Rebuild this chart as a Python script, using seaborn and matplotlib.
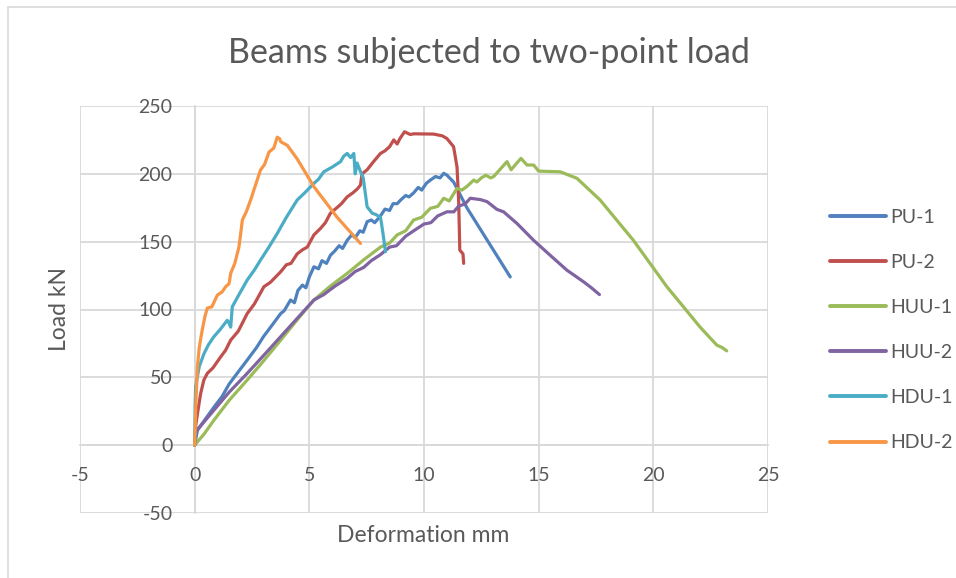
import numpy as np
import pandas as pd
import matplotlib
matplotlib.use("Agg")
import matplotlib.pyplot as plt
from matplotlib.lines import Line2D
import seaborn as sns

# ---------------- data ----------------
series_names = ["PU-1", "PU-2", "HUU-1", "HUU-2", "HDU-1", "HDU-2"]

pu1_x = [0, 0.12, 0.5, 0.84, 1.2, 1.5, 1.9, 2.29, 2.7, 3.0, 3.4, 3.75, 3.9, 4.18, 4.35,
         4.5, 4.7, 4.85, 5.0, 5.2, 5.4, 5.55, 5.75, 5.92, 6.1, 6.3, 6.45, 6.65, 6.85,
         7.0, 7.2, 7.35, 7.52, 7.7, 7.85, 8.1, 8.3, 8.5, 8.65, 8.83, 9.0, 9.2, 9.35,
         9.55, 9.75, 9.9, 10.1, 10.28, 10.5, 10.7, 10.86, 11.0, 11.29, 11.87, 13.76]
pu1_y = [0, 11, 20, 28, 36, 45, 54, 62.7, 72, 80, 89, 97, 99, 107, 105,
         114, 118, 116, 124, 131.5, 130, 136, 134, 140, 143, 147, 145, 151, 155,
         153, 158, 157, 164.7, 166, 164, 169, 174, 173, 178, 178, 181, 184, 183,
         186, 190, 188, 193, 195.4, 198, 197, 200.4, 199, 194, 175, 124]

pu2_x = [0, 0.05, 0.12, 0.26, 0.4, 0.55, 0.8, 1.13, 1.35, 1.57, 1.9, 2.29, 2.6, 3.02,
         3.3, 3.75, 4.0, 4.2, 4.47, 4.7, 4.91, 5.2, 5.5, 5.7, 5.92, 6.2, 6.4, 6.65,
         6.9, 7.1, 7.23, 7.3, 7.52, 7.8, 8.1, 8.3, 8.5, 8.68, 8.83, 8.95, 9.15, 9.4,
         9.55, 10.42, 10.8, 11.0, 11.29, 11.44, 11.51, 11.54, 11.56, 11.7, 11.73]
pu2_y = [0, 15, 23, 38, 48, 52.9, 57, 65, 70, 77.4, 84, 97, 104, 116.8,
         120, 127.8, 133, 134, 141, 144, 146, 155, 160, 164, 171, 175, 178, 183,
         186, 189, 191.7, 200, 203, 209, 215, 217, 220, 225, 222, 226, 231, 229,
         229.5, 229.3, 228, 226, 220, 205, 180.7, 160, 143.8, 141, 134]

huu1_x = [0, 0.4, 0.84, 1.5, 2.29, 3.0, 3.75, 4.5, 5.2, 5.9, 6.65, 7.4, 8.1, 8.5, 8.83,
          9.2, 9.55, 9.9, 10.28, 10.6, 10.86, 11.1, 11.44, 11.65, 11.87, 12.17, 12.31,
          12.5, 12.7, 12.9, 13.04, 13.3, 13.62, 13.8, 14.0, 14.23, 14.49, 14.78, 15.0,
          15.94, 16.67, 17.68, 19.13, 20.59, 22.04, 22.77, 23.0, 23.2]
huu1_y = [0, 8, 18.4, 33, 48, 62, 77.4, 93, 107, 117, 126.6, 137, 146, 149, 155,
          158, 166, 168, 174.6, 176, 182, 180, 189.3, 188, 190.7, 195.4, 194,
          197, 199, 197, 198, 203, 209, 203, 207, 211.4, 206.5, 206.5, 202,
          201.5, 196.7, 180.7, 151, 116.8, 87, 73.7, 72, 69.5]

huu2_x = [0, 0.05, 0.4, 0.84, 1.5, 2.29, 3.0, 3.75, 4.5, 5.2, 5.63, 6.1, 6.65, 7.0, 7.37,
          7.7, 8.1, 8.5, 8.8, 9.2, 9.55, 10.0, 10.3, 10.6, 11.0, 11.3, 11.5, 11.8, 12.02,
          12.46, 12.75, 13.18, 13.47, 14.05, 14.78, 15.5, 16.23, 16.96, 17.3, 17.65]
huu2_y = [0, 10, 17, 25.8, 39, 52.9, 66, 80, 94, 107, 111, 117, 123, 128, 131,
          136, 140.4, 146, 147, 154, 158, 163, 164, 169, 172, 172, 176, 178, 182,
          181, 179.5, 173.8, 172, 163.5, 151, 140, 129, 120.4, 116, 111]

hdu1_x = [0, 0.02, 0.04, 0.2, 0.41, 0.6, 0.84, 1.1, 1.42, 1.5, 1.57, 1.64, 1.9, 2.29,
          2.6, 2.87, 3.2, 3.6, 4.0, 4.47, 4.8, 5.2, 5.4, 5.63, 6.0, 6.36, 6.5, 6.65,
          6.8, 6.94, 7.0, 7.08, 7.15, 7.35, 7.52, 7.74, 7.9, 8.1, 8.15, 8.22, 8.32]
hdu1_y = [0, 30, 43, 58, 67.6, 74, 80, 85, 92, 90, 87, 102, 110, 121.7,
          129, 136.4, 145, 156, 168, 180.7, 186, 193, 196, 201.5, 205, 209, 213, 215,
          212, 215, 200, 208, 205, 197, 175.7, 171, 170, 168, 163, 155, 142.6]

hdu2_x = [0, 0.05, 0.12, 0.2, 0.33, 0.45, 0.55, 0.75, 0.99, 1.2, 1.35, 1.5, 1.57, 1.75,
          1.93, 2.0, 2.08, 2.25, 2.44, 2.6, 2.87, 3.05, 3.24, 3.45, 3.6, 3.7, 3.75, 4.04,
          4.47, 5.2, 6.21, 7.23]
hdu2_y = [0, 30, 57.7, 72, 85, 95, 101, 102, 110.6, 113, 116.8, 119, 126.6, 134,
          146, 155, 166, 172, 180.7, 189, 202.8, 207, 216, 219, 227, 226, 223.7, 221,
          211, 190.5, 168, 148.7]

x_ticks = [-5, 0, 5, 10, 15, 20, 25]
y_ticks = [-50, 0, 50, 100, 150, 200, 250]

title = "Beams subjected to two-point load"
x_label = "Deformation mm"
y_label = "Load kN"

colors = ["#4F81BD", "#C0504D", "#9BBB59", "#8064A2", "#4BACC6", "#F79646"]

# ---------------- build long table ----------------
xs = [pu1_x, pu2_x, huu1_x, huu2_x, hdu1_x, hdu2_x]
ys = [pu1_y, pu2_y, huu1_y, huu2_y, hdu1_y, hdu2_y]
frames = []
for name, x, y in zip(series_names, xs, ys):
    frames.append(pd.DataFrame({"x": x, "y": y, "series": name}))
df = pd.concat(frames, ignore_index=True)

# ---------------- style ----------------
sns.set_theme(style="white")
plt.rcParams["font.family"] = ["Lato", "DejaVu Sans"]
plt.rcParams["axes.unicode_minus"] = False
text_col = "#595959"
grid_col = "#D9D9D9"

fig = plt.figure(figsize=(9.56, 5.78), dpi=100)
W, H = 956, 578
ax = fig.add_axes([80 / W, 1 - 513 / H, (768 - 80) / W, (513 - 106) / H])

sns.lineplot(data=df, x="x", y="y", hue="series", hue_order=series_names,
             palette=colors, sort=False, estimator=None, units="series",
             linewidth=2.3, ax=ax, legend=False)

ax.set_xlim(-5, 25)
ax.set_ylim(-50, 250)
ax.set_xticks(x_ticks)
ax.set_yticks(y_ticks)
ax.grid(True, color=grid_col, linewidth=1.3)
ax.set_axisbelow(True)

for side in ["top", "right"]:
    ax.spines[side].set_visible(False)
ax.spines["left"].set_position(("data", 0))
ax.spines["bottom"].set_position(("data", 0))
for side in ["left", "bottom"]:
    ax.spines[side].set_color(grid_col)
    ax.spines[side].set_linewidth(1.3)
    ax.spines[side].set_zorder(0.5)

ax.tick_params(axis="both", length=0, labelsize=14, labelcolor=text_col)
ax.tick_params(axis="y", pad=16)
ax.tick_params(axis="x", pad=16)
ax.set_xlabel("")
ax.set_ylabel("")

# Title and axis titles
fig.text(489 / W, 1 - 53 / H, title, ha="center", va="center",
         fontsize=24.5, color=text_col)
fig.text(423 / W, 1 - 535 / H, x_label, ha="center", va="center",
         fontsize=16.5, color=text_col)
fig.text(60 / W, 1 - 309 / H, y_label, ha="center", va="center",
         rotation=90, fontsize=16.5, color=text_col)

# Legend
handles = [Line2D([0], [0], color=c, lw=2.8) for c in colors]
leg = fig.legend(handles, series_names, loc="center left",
                 bbox_to_anchor=(812 / W, 1 - 330 / H), frameon=False,
                 fontsize=14, handlelength=2.9, handletextpad=0.25,
                 labelspacing=1.45, labelcolor=text_col)

# chart-area border (left and top visible)
fig.add_artist(Line2D([8 / W, 8 / W], [0, 1 - 7 / H], color=grid_col, lw=1.2,
                      transform=fig.transFigure))
fig.add_artist(Line2D([8 / W, 1], [1 - 7 / H, 1 - 7 / H], color=grid_col, lw=1.2,
                      transform=fig.transFigure))

fig.savefig("out.png", dpi=100, facecolor="white")
